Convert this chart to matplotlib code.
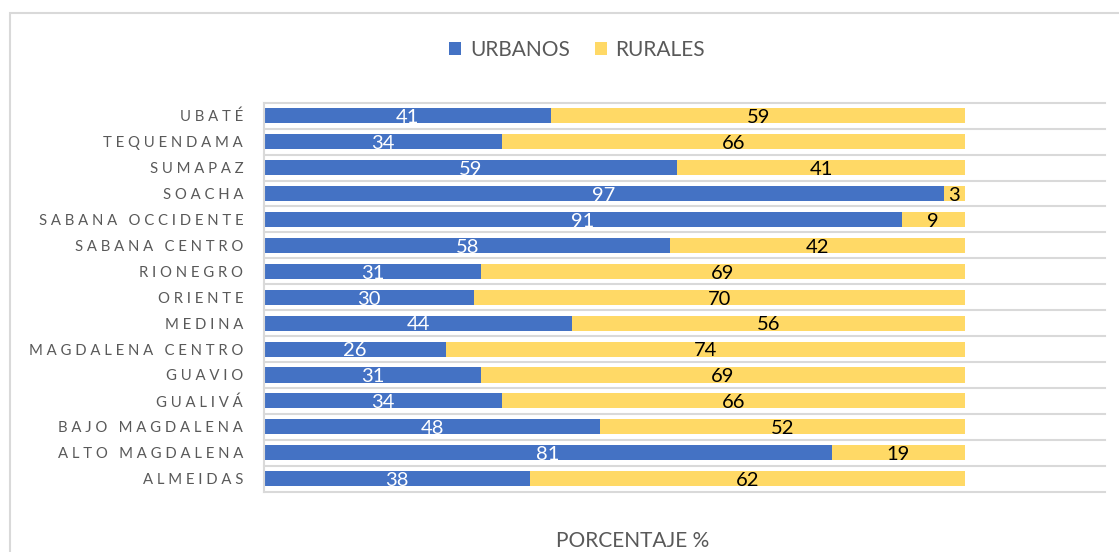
import matplotlib.pyplot as plt
from matplotlib.patches import Rectangle

plt.rcParams['font.family'] = ['Lato', 'DejaVu Sans']

# provincias, de abajo hacia arriba
provincias = ['ALMEIDAS', 'ALTO MAGDALENA', 'BAJO MAGDALENA', 'GUALIVÁ', 'GUAVIO',
              'MAGDALENA CENTRO', 'MEDINA', 'ORIENTE', 'RIONEGRO', 'SABANA CENTRO',
              'SABANA OCCIDENTE', 'SOACHA', 'SUMAPAZ', 'TEQUENDAMA', 'UBATÉ']
urbanos = [38, 81, 48, 34, 31, 26, 44, 30, 31, 58, 91, 97, 59, 34, 41]
rurales = [62, 19, 52, 66, 69, 74, 56, 70, 69, 42, 9, 3, 41, 66, 59]

azul = '#4472C4'
amarillo = '#FFD966'
gris = '#595959'


def espaciado(nombre):
    # letras separadas como en excel
    palabras = nombre.split(' ')
    return '   '.join(' '.join(p) for p in palabras)


fig = plt.figure(figsize=(11.19, 5.52), dpi=100)
ax = fig.add_axes([264 / 1119, 1 - 491.7 / 552, (1105 - 264) / 1119, (491.7 - 102.7) / 552])

y = list(range(len(provincias)))
b1 = ax.barh(y, urbanos, height=0.58, color=azul, label='URBANOS')
b2 = ax.barh(y, rurales, left=urbanos, height=0.58, color=amarillo, label='RURALES')

for i in y:
    ax.text(urbanos[i] / 2, i - 0.07, str(urbanos[i]), ha='center', va='center',
            color='white', fontsize=14.5)
    ax.text(urbanos[i] + rurales[i] / 2, i - 0.07, str(rurales[i]), ha='center', va='center',
            color='black', fontsize=14.5)

ax.set_xlim(0, 120)
ax.set_ylim(-0.5, len(provincias) - 0.5)
ax.set_xticks([])
ax.set_yticks(y)
ax.set_yticklabels([espaciado(p) for p in provincias], fontsize=10.7, color=gris)
ax.tick_params(axis='y', length=0, pad=15)

for k in range(len(provincias) + 1):
    ax.axhline(k - 0.5, color='#D9D9D9', lw=1.5, zorder=0, clip_on=False)

for s in ['top', 'right', 'bottom']:
    ax.spines[s].set_visible(False)
ax.spines['left'].set_color('#D9D9D9')
ax.spines['left'].set_linewidth(1.5)

fig.legend(handles=[b1, b2], loc='center', bbox_to_anchor=(577 / 1119, 1 - 50 / 552), ncol=2,
           frameon=False, fontsize=15, labelcolor=gris, handlelength=0.6, handleheight=0.6,
           handletextpad=0.4, columnspacing=1.2)

fig.text(633 / 1119, 1 - 541 / 552, 'PORCENTAJE %', ha='center', va='center',
         fontsize=15, color=gris)

# borde del grafico
fig.patches.append(Rectangle((9.5 / 1119, -0.1), 1.2, 1.1 - 12.5 / 552, transform=fig.transFigure,
                             fill=False, edgecolor='#D9D9D9', lw=1.5))

fig.savefig('out.png', dpi=100)
